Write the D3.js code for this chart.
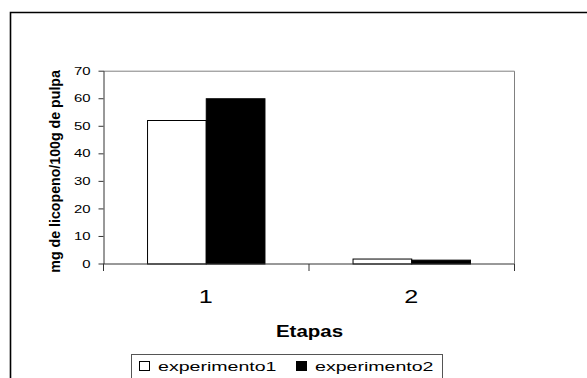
<!DOCTYPE html>
<html>
<head>
<meta charset="utf-8">
<script src="https://cdn.jsdelivr.net/npm/d3@7"></script>
<style>
  html, body { margin: 0; padding: 0; background: #fff; }
  svg { display: block; font-family: "Liberation Sans", Arial, sans-serif; }
</style>
</head>
<body>
<div id="chart"></div>
<script>
// data
const categories = ['1', '2'];
const seriesNames = ['experimento1', 'experimento2'];
const experimento1 = [52.1, 1.8];
const experimento2 = [60, 1.4];
const yTicks = [0, 10, 20, 30, 40, 50, 60, 70];
const seriesFill = ['#ffffff', '#000000'];

const width = 587, height = 378;

const svg = d3.select('#chart')
    .append('svg')
    .attr('width', width)
    .attr('height', height);

// the source picture is stretched sideways, so widen text glyphs the same way
function widen(sel, k) {
    sel.each(function() {
        const t = d3.select(this);
        const tx = +t.attr('x') || 0;
        const ty = +t.attr('y') || 0;
        t.attr('x', 0).attr('y', 0)
            .attr('transform', `translate(${tx},${ty}) scale(${k},1)`);
    });
}

// outer frame (only left and top edges are visible)
svg.append('path')
    .attr('d', 'M10.5,' + height + 'V12.5H' + width)
    .attr('fill', 'none')
    .attr('stroke', '#000')
    .attr('stroke-width', 1.6);

const plot = { left: 103, right: 514, top: 70.7, bottom: 263.5 };

const x = d3.scaleBand()
    .domain(categories)
    .range([plot.left, plot.right])
    .paddingInner(0)
    .paddingOuter(0);

const xs = d3.scaleBand()
    .domain(seriesNames)
    .range([0, x.bandwidth()])
    .paddingInner(0)
    .paddingOuter(0.75);

const y = d3.scaleLinear()
    .domain([0, 70])
    .range([plot.bottom, plot.top]);

// plot area border (top and right)
svg.append('path')
    .attr('d', `M${plot.left},${plot.top + 0.5}H${plot.right + 0.5}V${plot.bottom}`)
    .attr('fill', 'none')
    .attr('stroke', '#808080')
    .attr('stroke-width', 1);

// bars
const rows = categories.map((c, i) => ({
    cat: c,
    values: [
        { key: seriesNames[0], v: experimento1[i], fill: seriesFill[0] },
        { key: seriesNames[1], v: experimento2[i], fill: seriesFill[1] }
    ]
}));

svg.append('g')
    .selectAll('g')
    .data(rows)
    .enter().append('g')
    .attr('transform', d => `translate(${x(d.cat)},0)`)
    .selectAll('rect')
    .data(d => d.values)
    .enter().append('rect')
    .attr('x', d => xs(d.key) + 0.5)
    .attr('y', d => y(d.v) + 0.5)
    .attr('width', xs.bandwidth())
    .attr('height', d => plot.bottom - y(d.v))
    .attr('fill', d => d.fill)
    .attr('stroke', '#000')
    .attr('stroke-width', 1);

// y axis
const yAxis = svg.append('g')
    .attr('transform', `translate(${plot.left + 0.5},0)`)
    .call(d3.axisLeft(y).tickValues(yTicks).tickSize(5).tickPadding(8).tickSizeOuter(0));
yAxis.select('.domain').attr('stroke', '#333');
yAxis.selectAll('.tick line').attr('stroke', '#333');
yAxis.selectAll('.tick text')
    .attr('font-size', '10.5px')
    .attr('font-family', '"Liberation Sans", Arial, sans-serif')
    .attr('fill', '#000')
    .attr('x', -13)
    .attr('y', 3.6)
    .attr('dy', null)
    .call(widen, 1.42);

// x axis: ticks on band edges, labels at band centres
const xAxis = svg.append('g')
    .attr('transform', `translate(0,${plot.bottom + 0.5})`);
xAxis.append('line')
    .attr('x1', plot.left).attr('x2', plot.right + 1)
    .attr('stroke', '#333');
const edges = categories.map(c => x(c)).concat([x(categories[categories.length - 1]) + x.bandwidth()]);
xAxis.selectAll('line.edge')
    .data(edges)
    .enter().append('line')
    .attr('class', 'edge')
    .attr('x1', d => d + 0.5).attr('x2', d => d + 0.5)
    .attr('y1', 0).attr('y2', 7)
    .attr('stroke', '#333');
xAxis.selectAll('text')
    .data(categories)
    .enter().append('text')
    .attr('x', d => x(d) + x.bandwidth() / 2)
    .attr('y', 39)
    .attr('text-anchor', 'middle')
    .attr('font-size', '18px')
    .text(d => d)
    .call(widen, 1.4);

// axis titles
svg.append('text')
    .attr('x', 309.5)
    .attr('y', 336.5)
    .attr('text-anchor', 'middle')
    .attr('font-size', '16px')
    .attr('font-weight', 'bold')
    .text('Etapas')
    .call(widen, 1.28);

svg.append('text')
    .attr('transform', `translate(60.3,171.4) rotate(-90)`)
    .attr('text-anchor', 'middle')
    .attr('font-size', '14.2px')
    .attr('font-weight', 'bold')
    .text('mg de licopeno/100g de pulpa');

// legend
const legend = svg.append('g');
legend.append('rect')
    .attr('x', 131.5).attr('y', 354.5)
    .attr('width', 311).attr('height', 40)
    .attr('fill', '#fff')
    .attr('stroke', '#555');

const legendX = [139, 296];
const items = legend.selectAll('g.item')
    .data(seriesNames)
    .enter().append('g')
    .attr('class', 'item')
    .attr('transform', (d, i) => `translate(${legendX[i]},0)`);
items.append('rect')
    .attr('x', 0.5).attr('y', 361.5)
    .attr('width', 10).attr('height', 9)
    .attr('fill', (d, i) => seriesFill[i])
    .attr('stroke', '#000');
items.append('text')
    .attr('x', 19)
    .attr('y', 370.5)
    .attr('font-size', '13.5px')
    .text(d => d)
    .call(widen, 1.45);
</script>
</body>
</html>
